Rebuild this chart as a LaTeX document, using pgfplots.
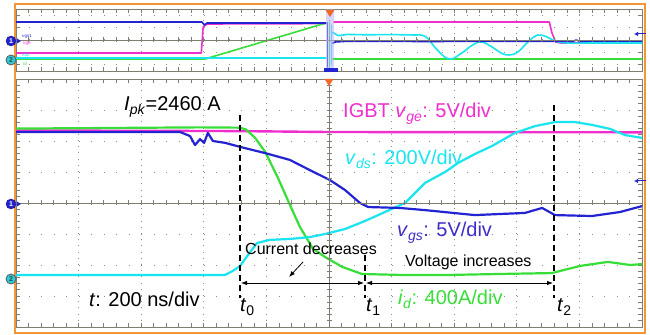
\documentclass[border=0pt]{standalone}
\usepackage{pgfplots}
\pgfplotsset{compat=1.18}
\usepackage{fontspec}
\setmainfont{Liberation Sans}
\usetikzlibrary{arrows.meta}

% trace and screen colours
\definecolor{trMag}{RGB}{240,45,205}
\definecolor{trCyan}{RGB}{25,228,240}
\definecolor{trBlue}{RGB}{35,35,210}
\definecolor{trGreen}{RGB}{55,222,55}
\definecolor{lbBlue}{RGB}{60,45,200}
\definecolor{gridLine}{RGB}{128,126,112}
\definecolor{gridDot}{RGB}{140,140,135}
\definecolor{frameOrange}{RGB}{243,150,55}
\definecolor{trigOrange}{RGB}{240,105,40}
\definecolor{chTwo}{RGB}{40,205,215}

\newcommand\lblfont{\fontsize{20bp}{24bp}\selectfont}
\newcommand\notefont{\fontsize{16bp}{19bp}\selectfont}

\pgfplotsset{
  scope frame/.style={
    scale only axis, width=626bp,
    axis line style={gridLine, line width=0.9bp},
    xticklabels={}, yticklabels={},
    tick align=inside, xtick pos=both, ytick pos=both,
    major tick length=4bp, minor tick length=4bp,
    every tick/.append style={gridLine, line width=0.7bp},
    every minor tick/.append style={gridLine, line width=0.7bp},
    grid=major,
    major grid style={gridDot, line width=1bp},
    no markers,
    every axis plot/.append style={line join=round, line cap=round},
  },
}

\begin{document}
\begin{tikzpicture}
\path[use as bounding box] (0,0) rectangle (650bp,335bp);

% ---------------- overview window (time in divisions) ----------------
\begin{axis}[scope frame, at={(16bp,264bp)}, anchor=south west, height=62bp,
  xmin=0, xmax=10, ymin=-2.5, ymax=2.5,
  xtick={0,...,10}, ytick={-2,...,2},
  minor x tick num=4,
  every axis x grid/.append style={dash pattern=on 1bp off 5.2bp},
  every axis y grid/.append style={dash pattern=on 1bp off 11.52bp},
]
% gate-emitter voltage
\addplot[trMag, line width=1.6bp] coordinates {
  (0,-1.05) (2.96,-1.05) (2.99,1.05) (3.05,1.29) (4.95,1.32)};
\addplot[trMag, line width=1.6bp] coordinates {
  (5.08,1.45) (8.52,1.45) (8.56,0.6) (8.62,-0.16) (8.7,-0.24) (10,-0.24)};
% drain current
\addplot[trGreen, line width=1.6bp] coordinates {
  (0,-1.53) (3.02,-1.53) (4.95,1.37)};
\addplot[trGreen, line width=1.6bp] coordinates {(5.06,-1.53) (10,-1.53)};
% drain-source voltage
\addplot[trCyan, line width=1.6bp] coordinates {(0,-1.45) (4.95,-1.45)};
\addplot[trCyan, line width=1.6bp] coordinates {
  (5.06,0.6) (5.15,0.35) (5.3,0.45) (5.6,0.42) (6.0,0.44) (6.40,0.40)};
\addplot[trCyan, line width=1.6bp, smooth, tension=0.7] coordinates {
  (6.40,0.40) (6.55,0.25) (6.72,-0.75) (6.92,-1.53) (7.12,-1.05)
  (7.28,-0.45) (7.43,-0.16) (7.60,-0.55) (7.75,-1.05) (7.88,-1.21)
  (8.02,-0.95) (8.18,-0.15) (8.33,0.40) (8.48,0.25) (8.62,-0.10)
  (8.80,-0.24) (9.2,-0.24) (10,-0.24)};
% gate-source voltage
\addplot[trBlue, line width=1.6bp] coordinates {
  (0,1.45) (2.97,1.45) (3.01,1.21) (3.05,1.37) (4.95,1.37)};
\addplot[trBlue, line width=1.6bp] coordinates {
  (5.06,-0.25) (5.10,-0.16) (5.3,-0.10) (6.5,-0.12) (8.9,-0.10)
  (8.95,0.0) (9.0,-0.10) (10,-0.08)};
% switching edge, compressed at this time scale
\addplot[trGreen, line width=1bp] coordinates {(5.0,1.4) (5.0,-2.4)};
\addplot[trCyan, line width=1bp] coordinates {(5.04,1.2) (5.04,-2.0)};
\addplot[trBlue, line width=0.8bp] coordinates {(4.97,1.4) (4.97,-2.2)};
\end{axis}

% ---------------- zoomed window (time in ns, amplitude in divisions) ----------------
\begin{axis}[scope frame, at={(16bp,8bp)}, anchor=south west, height=248bp,
  xmin=-1000, xmax=1000, ymin=-4, ymax=4,
  xtick={-1000,-800,...,1000}, ytick={-4,...,4},
  minor x tick num=4, minor y tick num=4,
  every axis x grid/.append style={dash pattern=on 1bp off 5.2bp},
  every axis y grid/.append style={dash pattern=on 1bp off 11.52bp},
]
% IGBT v_ge
\addplot[trMag, line width=2.4bp] coordinates {
  (-1000,2.34) (-300,2.32) (0,2.29) (1000,2.28)};
% i_d
\addplot[trGreen, line width=2.2bp] coordinates {
  (-1000,2.40) (-412,2.44) (-284,2.43) (-265,2.37) (-236,2.10)
  (-204,1.65) (-163,0.81) (-125,-0.06) (-93,-0.77) (-51,-1.48)
  (-13,-1.74) (42,-2.06) (105,-2.29) (227,-2.32) (387,-2.32)
  (546,-2.29) (712,-2.26) (802,-2.03) (891,-1.90) (962,-2.0) (1000,-1.97)};
% v_ds
\addplot[trCyan, line width=2.2bp] coordinates {
  (-1000,-2.32) (-332,-2.32) (-307,-2.19) (-284,-2.03) (-259,-1.68)
  (-230,-1.29) (-189,-1.19) (-125,-1.16) (-61,-1.10) (-13,-1.0)
  (51,-0.84) (115,-0.58) (179,-0.29) (243,0.0) (307,0.65)
  (371,1.0) (412,1.29) (466,1.58) (521,1.84) (594,2.26)
  (658,2.48) (722,2.61) (786,2.61) (840,2.52) (898,2.39)
  (946,2.19) (1000,2.10)};
% v_gs
\addplot[trBlue, line width=2.2bp] coordinates {
  (-1000,2.29) (-476,2.29) (-444,2.16) (-428,1.87) (-412,2.06)
  (-399,1.94) (-387,2.26) (-371,2.0) (-332,1.94) (-284,1.81)
  (-204,1.61) (-125,1.39) (-61,1.06) (3,0.74) (51,0.42)
  (99,0.0) (125,-0.13) (227,-0.16) (307,-0.23) (466,-0.39)
  (626,-0.32) (681,-0.16) (722,-0.39) (840,-0.42) (930,-0.29) (1000,-0.10)};
\end{axis}

% ---------------- screen furniture and annotations (pixel frame) ----------------
\begin{scope}[shift={(0,335bp)}, x=1bp, y=-1bp]
  % centre lines with subdivision marks
  \draw[gridLine, line width=0.9bp] (16,203) -- (642,203) (329,79) -- (329,327) (16,40) -- (642,40);
  \foreach \k in {1,...,49} {
    \draw[gridLine, line width=0.7bp] (16+\k*12.52,200.5) -- ++(0,5);
    \draw[gridLine, line width=0.7bp] (16+\k*12.52,37.5) -- ++(0,5);
  }
  \foreach \k in {1,...,39}
    \draw[gridLine, line width=0.7bp] (326.5,79+\k*6.2) -- ++(5,0);

  % zoom position in the overview window
  \fill[blue!30, opacity=0.55] (326,9) rectangle (334,71);
  \fill[trBlue] (324,68) rectangle (338,72);
  % trigger position markers
  \fill[trigOrange] (325.5,10) -- (334.5,10) -- (330,17) -- cycle;
  \fill[trigOrange] (324.5,79) -- (333.5,79) -- (329,86) -- cycle;

  % screen frame
  \draw[frameOrange, line width=2bp] (15,4) rectangle (645,333);

  % channel markers
  \foreach \yy in {41,204} {
    \node[circle, fill=trBlue, draw=trBlue!60!black, inner sep=0pt, minimum size=10bp,
      text=white, font=\fontsize{7bp}{7bp}\selectfont\bfseries] at (11,\yy) {1};
    \fill[trBlue] (17,\yy-2.5) -- (21,\yy) -- (17,\yy+2.5) -- cycle;
  }
  \foreach \yy in {60,279}
    \node[circle, fill=chTwo, draw=black!65, line width=0.8bp, inner sep=0pt, minimum size=10bp,
      text=black!75, font=\fontsize{7bp}{7bp}\selectfont\bfseries] at (11,\yy) {2};
  % tiny channel captions
  \node[anchor=west, inner sep=0pt, text=trBlue, font=\fontsize{4.5bp}{5bp}\selectfont] at (22,36) {\textit{v}gs1};
  \node[anchor=west, inner sep=0pt, text=trMag, font=\fontsize{4.5bp}{5bp}\selectfont] at (23,44) {\textit{v}ge};
  \node[anchor=west, inner sep=0pt, text=trCyan, font=\fontsize{4.5bp}{5bp}\selectfont] at (22,55) {\textit{v}ds};
  \node[anchor=west, inner sep=0pt, text=trGreen, font=\fontsize{4.5bp}{5bp}\selectfont] at (23,64) {\textit{i}d};
  % reference level arrows on the right
  \draw[trBlue, line width=1bp, -{Latex[length=4bp,width=4.5bp]}] (646,34) -- (634,34);
  \draw[trBlue, line width=1bp, -{Latex[length=4bp,width=4.5bp]}] (646,181) -- (634,181);

  % interval boundaries
  \begin{scope}[black, line width=1.3bp, dash pattern=on 6bp off 4bp]
    \draw (240,115) -- (240,298);
    \draw (365,255) -- (365,298);
    \draw (554,105) -- (554,298);
  \end{scope}
  \draw[line width=0.8bp, {Latex[length=6bp,width=4.5bp]}-{Latex[length=6bp,width=4.5bp]}] (241,283) -- (364,283);
  \draw[line width=0.8bp, {Latex[length=6bp,width=4.5bp]}-{Latex[length=6bp,width=4.5bp]}] (366,283) -- (553,283);
  \draw[line width=0.8bp, -{Latex[length=6bp,width=4.5bp]}] (303,262) -- (289,277);

  % labels
  \node[anchor=base west, inner sep=0pt, font=\lblfont] at (124,111) {\textit{I}\textsubscript{\textit{pk}}=2460 A};
  \node[anchor=base west, inner sep=0pt, font=\lblfont, text=trMag] at (343,118) {IGBT \textit{v}\textsubscript{\textit{ge}}: 5V/div};
  \node[anchor=base west, inner sep=0pt, font=\lblfont, text=trCyan] at (345,165) {\textit{v}\textsubscript{\textit{ds}}: 200V/div};
  \node[anchor=base west, inner sep=0pt, font=\lblfont, text=lbBlue] at (397,237) {\textit{v}\textsubscript{\textit{gs}}: 5V/div};
  \node[anchor=base west, inner sep=0pt, font=\lblfont, text=trGreen] at (398,305) {\textit{i}\textsubscript{\textit{d}}: 400A/div};
  \node[anchor=base west, inner sep=0pt, font=\lblfont] at (89,307) {\textit{t}: 200 ns/div};
  \node[anchor=base west, inner sep=0pt, font=\notefont] at (245,255) {Current decreases};
  \node[anchor=base west, inner sep=0pt, font=\notefont] at (405,267) {Voltage increases};
  \node[anchor=base west, inner sep=0pt, font=\lblfont] at (240,312) {\textit{t}\textsubscript{0}};
  \node[anchor=base west, inner sep=0pt, font=\lblfont] at (366,312) {\textit{t}\textsubscript{1}};
  \node[anchor=base west, inner sep=0pt, font=\lblfont] at (557,312) {\textit{t}\textsubscript{2}};
\end{scope}
\end{tikzpicture}
\end{document}
